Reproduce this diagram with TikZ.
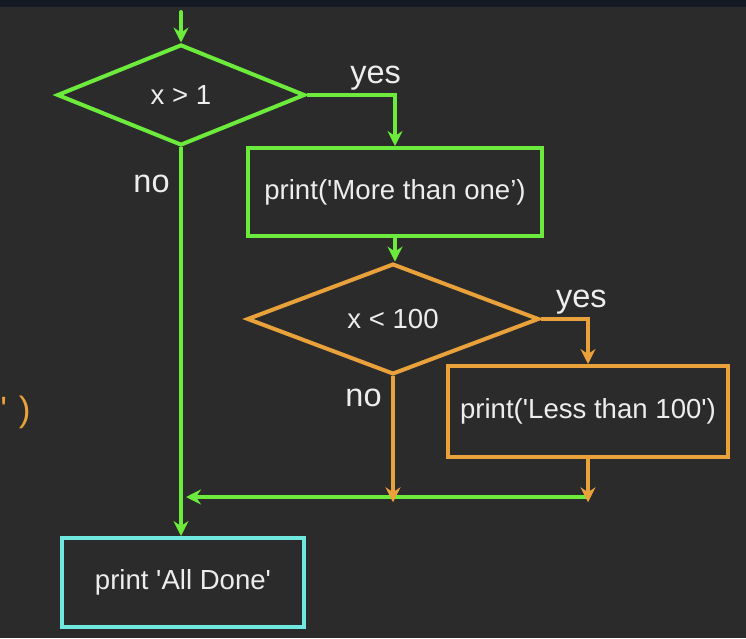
\documentclass[tikz,border=0pt]{standalone}
\usepackage{fontspec}
\setmainfont{Liberation Sans}
\usetikzlibrary{shapes.geometric,arrows.meta}
\definecolor{bg}{HTML}{2B2B2B}
\definecolor{topbar}{HTML}{151923}
\definecolor{txt}{HTML}{EDEDED}
\definecolor{green1}{HTML}{6CEB3C}
\definecolor{orange1}{HTML}{E9A23B}
\definecolor{cyan1}{HTML}{70E8E0}
\newcommand{\sq}{\textquotesingle}
\begin{document}
\begin{tikzpicture}[x=0.02cm,y=-0.02cm,font=\fontsize{15.7}{18}\selectfont,text=txt,
  decision/.style={draw,diamond,line width=0.08cm,inner sep=0pt},
  stepbox/.style={draw,rectangle,line width=0.08cm},
  flow/.style={line width=0.08cm,-{Stealth[length=0.3cm,width=0.3cm,inset=0.1cm]}},
  lbl/.style={font=\fontsize{18.5}{22}\selectfont,text=txt}]
\fill[bg] (0,0) rectangle (746,638);
\fill[topbar] (0,0) rectangle (746,7);
\useasboundingbox (0,0) rectangle (746,638);

\node[decision,draw=green1,minimum width=4.96cm,minimum height=2.02cm] (gt1) at (181,95) {x > 1};
\node[stepbox,draw=green1,minimum width=5.9cm,minimum height=1.76cm] (more) at (395,192) {print(\sq More than one’)};
\node[decision,draw=orange1,minimum width=5.84cm,minimum height=2.04cm] (lt100) at (393,319) {x < 100};
\node[stepbox,draw=orange1,minimum width=5.6cm,minimum height=1.82cm] (less) at (588,411.5) {print(\sq Less than 100\sq)};
\node[stepbox,draw=cyan1,minimum width=4.84cm,minimum height=1.78cm] (done) at (183,582.5) {print \sq All Done\sq};
\node[anchor=west,inner sep=0pt,text=orange1,font=\fontsize{20}{24}\selectfont] (code) at (0,412) {\sq\,\,)};

\coordinate (start) at (181,12);
\coordinate (join) at (588,497);
\coordinate (merge) at (186,497);

\draw[flow,green1,line cap=round] (start) -- (gt1.north);
\draw[flow,green1] (gt1.east) -| node[lbl,pos=0.39,above,yshift=-2pt] {yes} (more.north);
\draw[flow,green1] (gt1.south) -- node[lbl,pos=0.094,left,xshift=-2pt] {no} (gt1.south |- done.north);
\draw[flow,green1] (more.south) -- (more.south |- lt100.north);
\draw[flow,green1] (join) -- (merge);

\draw[flow,orange1] (lt100.east) -| node[lbl,pos=0.43,above,yshift=-2pt] {yes} (less.north);
\draw[flow,orange1] (lt100.south) -- node[lbl,pos=0.17,left,xshift=-2pt] {no} ([yshift=-3pt]lt100.south |- join);
\draw[flow,orange1] (less.south) -- ([yshift=-3pt]join);
\end{tikzpicture}
\end{document}
